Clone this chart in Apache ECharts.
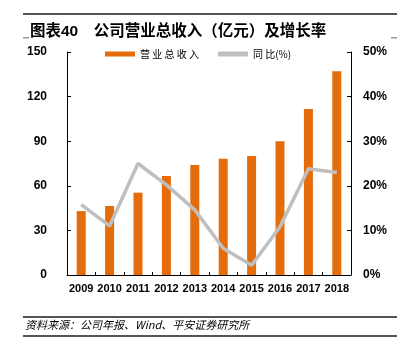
<!DOCTYPE html>
<html>
<head>
<meta charset="utf-8">
<script src="https://cdn.jsdelivr.net/npm/echarts@6/dist/echarts.min.js"></script>
<style>
html, body { margin: 0; padding: 0; background: #fff; }
#wrap { position: relative; width: 406px; height: 352px; }
#chart { width: 406px; height: 352px; }
#topline { position: absolute; left: 23px; top: 13px; width: 374px; height: 2px; background: #555; }
</style>
</head>
<body>
<div id="wrap">
<div id="chart"></div>
<div id="topline"></div>
</div>
<script>
// 年份
var years = ['2009', '2010', '2011', '2012', '2013', '2014', '2015', '2016', '2017', '2018'];
// 营业总收入（亿元）
var revenue = [43, 46.4, 55.4, 66.6, 74, 78.2, 80, 90, 111.6, 137];
// 同比(%)
var growth = [15.8, 11, 25, 20.2, 14.6, 6, 2.2, 10.8, 23.8, 23];

var chart = echarts.init(document.getElementById('chart'));
var fontFam = '"Liberation Sans", Arial, "Noto Sans CJK SC", sans-serif';
var option = {
	animation: false,
	title: {
		text: '图表40　公司营业总收入（亿元）及增长率',
		left: 25,
		top: 19,
		textStyle: { fontSize: 15.5, fontWeight: 'bold', color: '#000', fontFamily: '"Liberation Sans", "Noto Sans CJK SC", sans-serif' }
	},
	legend: {
		top: 44,
		left: 100,
		itemGap: 19,
		itemWidth: 30,
		itemHeight: 5,
		formatter: function(name) {
			// 图例文字字间距较宽
			return name.replace('营业总收入', '营 业 总 收 入').replace('同比', '同 比');
		},
		textStyle: { fontSize: 10, color: '#000', fontFamily: '"Noto Sans CJK SC", sans-serif' },
		data: [
			{ name: '营业总收入', icon: 'rect' },
			{ name: '同比(%)', icon: 'roundRect', itemStyle: { color: '#BFBFBF' } }
		]
	},
	grid: { left: 67, right: 55, top: 52, bottom: 77 },
	xAxis: {
		type: 'category',
		data: years,
		axisLine: { lineStyle: { color: '#000', width: 1 } },
		axisTick: { show: true, inside: true, length: 3, lineStyle: { color: '#000' } },
		axisLabel: { interval: 0, color: '#000', fontWeight: 'bold', fontSize: 11, fontFamily: fontFam, margin: 8 }
	},
	yAxis: [{
		type: 'value',
		min: 0, max: 150, interval: 30,
		axisLine: { show: true, lineStyle: { color: '#000' } },
		axisTick: { show: true, inside: true, length: 4, lineStyle: { color: '#000' } },
		splitLine: { show: false },
		axisLabel: { color: '#000', fontWeight: 'bold', fontSize: 12, fontFamily: fontFam, margin: 20 }
	}, {
		type: 'value',
		min: 0, max: 50, interval: 10,
		axisLine: { show: true, lineStyle: { color: '#000' } },
		axisTick: { show: true, inside: true, length: 4, lineStyle: { color: '#000' } },
		splitLine: { show: false },
		axisLabel: { color: '#000', fontWeight: 'bold', fontSize: 12, fontFamily: fontFam, margin: 12, formatter: '{value}%' }
	}],
	series: [{
		name: '营业总收入',
		type: 'bar',
		data: revenue,
		barWidth: 9,
		itemStyle: { color: '#E46C0A' }
	}, {
		name: '同比(%)',
		type: 'line',
		yAxisIndex: 1,
		data: growth,
		symbol: 'none',
		lineStyle: { color: '#BFBFBF', width: 3.5 },
		itemStyle: { color: '#BFBFBF' }
	}],
	graphic: [
		{ type: 'rect', left: 23, top: 13, shape: { width: 374, height: 2 }, style: { fill: '#555' } },
		{ type: 'rect', left: 23, top: 37, shape: { width: 6, height: 1.5 }, style: { fill: '#999' } },
		{ type: 'rect', left: 391, top: 37, shape: { width: 6, height: 1.5 }, style: { fill: '#999' } },
		{ type: 'rect', left: 23, top: 316, shape: { width: 374, height: 2 }, style: { fill: '#555' } },
		{ type: 'rect', left: 23, top: 335, shape: { width: 374, height: 2 }, style: { fill: '#555' } },
		{ type: 'text', left: 25, top: 319, style: { text: '资料来源：公司年报、Wind、平安证券研究所', fill: '#000', font: 'italic 11px "Noto Sans CJK SC", sans-serif' } }
	]
};
chart.setOption(option);
</script>
</body>
</html>
